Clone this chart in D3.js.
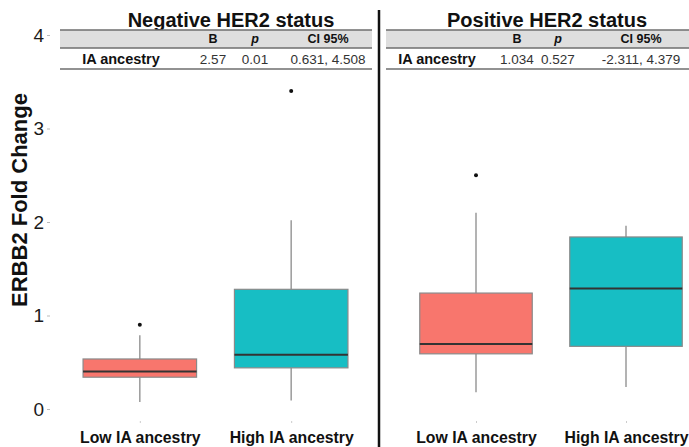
<!DOCTYPE html>
<html>
<head>
<meta charset="utf-8">
<script src="https://cdn.jsdelivr.net/npm/d3@7"></script>
<style>
  body { margin: 0; background: #fff; }
  svg { font-family: "Liberation Sans", Arial, sans-serif; display: block; }
</style>
</head>
<body>
<svg id="chart" width="689" height="447"></svg>
<script>
// panels and groups
var panels = ['Negative HER2 status', 'Positive HER2 status']
var groups = ['Low IA ancestry', 'High IA ancestry']
var groupColors = ['#F8766D', '#17BEC4']

// box stats, one row per panel, one value per group
var whiskerLow = [[0.075, 0.09], [0.18, 0.235]]
var q1 = [[0.34, 0.44], [0.59, 0.67]]
var median = [[0.40, 0.58], [0.695, 1.29]]
var q3 = [[0.535, 1.28], [1.24, 1.84]]
var whiskerHigh = [[0.79, 2.02], [2.10, 1.96]]
var outliers = [[[0.90], [3.40]], [[2.50], []]]

// regression tables
var tableHeaders = ['B', 'p', 'CI 95%']
var tableRowLabel = 'IA ancestry'
var tableValues = [['2.57', '0.01', '0.631, 4.508'], ['1.034', '0.527', '-2.311, 4.379']]

var yTicks = [0, 1, 2, 3, 4]

var svg = d3.select('#chart')

var y = d3.scaleLinear().domain([0, 4]).range([409, 35])

var panelRanges = [[49, 382], [386, 716]]
var bandExtents = [[60, 372], [386, 689]]
var titleX = [231, 547]
var colX = [[213, 255, 328], [517, 558, 641]]
var rowLabelX = [121, 437]

// y axis
var yAxis = svg.append('g')
    .attr('transform', 'translate(50,0)')
    .call(d3.axisLeft(y).tickValues(yTicks).tickSize(3).tickPadding(3).tickFormat(d3.format('d')))
yAxis.select('.domain').remove()
yAxis.selectAll('line').attr('stroke', '#bbb')
yAxis.selectAll('text')
    .attr('font-size', 19)
    .attr('fill', '#1a1a1a')
    .attr('font-family', '"Liberation Sans", Arial, sans-serif')

svg.append('text')
    .attr('transform', 'translate(27,200) rotate(-90)')
    .attr('text-anchor', 'middle')
    .attr('font-size', 22)
    .attr('font-weight', 'bold')
    .attr('fill', '#111')
    .text('ERBB2 Fold Change')

panels.forEach(function (title, p) {
    var x = d3.scalePoint().domain(groups).range(panelRanges[p]).padding(0.6)
    var bw = x.step() * 0.75
    var g = svg.append('g')

    // x axis
    var xAxis = g.append('g')
        .attr('transform', 'translate(0,421)')
        .call(d3.axisBottom(x).tickSize(2).tickPadding(9))
    xAxis.select('.domain').remove()
    xAxis.selectAll('line').attr('stroke', '#ccc')
    xAxis.selectAll('text')
        .attr('font-size', 15.8)
        .attr('font-weight', 'bold')
        .attr('fill', '#111')
        .attr('font-family', '"Liberation Sans", Arial, sans-serif')

    // boxes
    groups.forEach(function (grp, i) {
        var cx = x(grp)
        g.append('line')
            .attr('x1', cx).attr('x2', cx)
            .attr('y1', y(whiskerHigh[p][i])).attr('y2', y(q3[p][i]))
            .attr('stroke', '#9a9a9a').attr('stroke-width', 1.5)
        g.append('line')
            .attr('x1', cx).attr('x2', cx)
            .attr('y1', y(q1[p][i])).attr('y2', y(whiskerLow[p][i]))
            .attr('stroke', '#9a9a9a').attr('stroke-width', 1.5)
        g.append('rect')
            .attr('x', cx - bw / 2)
            .attr('width', bw)
            .attr('y', y(q3[p][i]))
            .attr('height', y(q1[p][i]) - y(q3[p][i]))
            .attr('fill', groupColors[i])
            .attr('stroke', '#8a8a8a')
            .attr('stroke-width', 1.2)
        g.append('line')
            .attr('x1', cx - bw / 2).attr('x2', cx + bw / 2)
            .attr('y1', y(median[p][i])).attr('y2', y(median[p][i]))
            .attr('stroke', '#333').attr('stroke-width', 2)
        g.selectAll(null)
            .data(outliers[p][i])
            .enter()
            .append('circle')
            .attr('cx', cx)
            .attr('cy', function (d) { return y(d) })
            .attr('r', 2)
            .attr('fill', '#111')
    })

    // title + table
    g.append('text')
        .attr('x', titleX[p]).attr('y', 27)
        .attr('text-anchor', 'middle')
        .attr('font-size', 20)
        .attr('font-weight', 'bold')
        .attr('fill', '#111')
        .text(title)

    var bx = bandExtents[p]
    g.append('rect')
        .attr('x', bx[0]).attr('width', bx[1] - bx[0])
        .attr('y', 30).attr('height', 18)
        .attr('fill', '#dedede')
    ;[30, 48, 69].forEach(function (ly) {
        g.append('line')
            .attr('x1', bx[0]).attr('x2', bx[1])
            .attr('y1', ly).attr('y2', ly)
            .attr('stroke', '#6e6e6e').attr('stroke-width', 1.5)
    })

    tableHeaders.forEach(function (h, j) {
        g.append('text')
            .attr('x', colX[p][j]).attr('y', 43)
            .attr('text-anchor', 'middle')
            .attr('font-size', 12.5)
            .attr('font-weight', 'bold')
            .attr('font-style', h === 'p' ? 'italic' : 'normal')
            .attr('fill', '#111')
            .text(h)
    })
    g.append('text')
        .attr('x', rowLabelX[p]).attr('y', 64)
        .attr('text-anchor', 'middle')
        .attr('font-size', 14.5)
        .attr('font-weight', 'bold')
        .attr('fill', '#111')
        .text(tableRowLabel)
    tableValues[p].forEach(function (v, j) {
        g.append('text')
            .attr('x', colX[p][j]).attr('y', 64)
            .attr('text-anchor', 'middle')
            .attr('font-size', 13.5)
            .attr('fill', '#333')
            .text(v)
    })
})

// divider between panels
svg.append('line')
    .attr('x1', 379).attr('x2', 379)
    .attr('y1', 10).attr('y2', 447)
    .attr('stroke', '#111').attr('stroke-width', 2.5)
</script>
</body>
</html>
